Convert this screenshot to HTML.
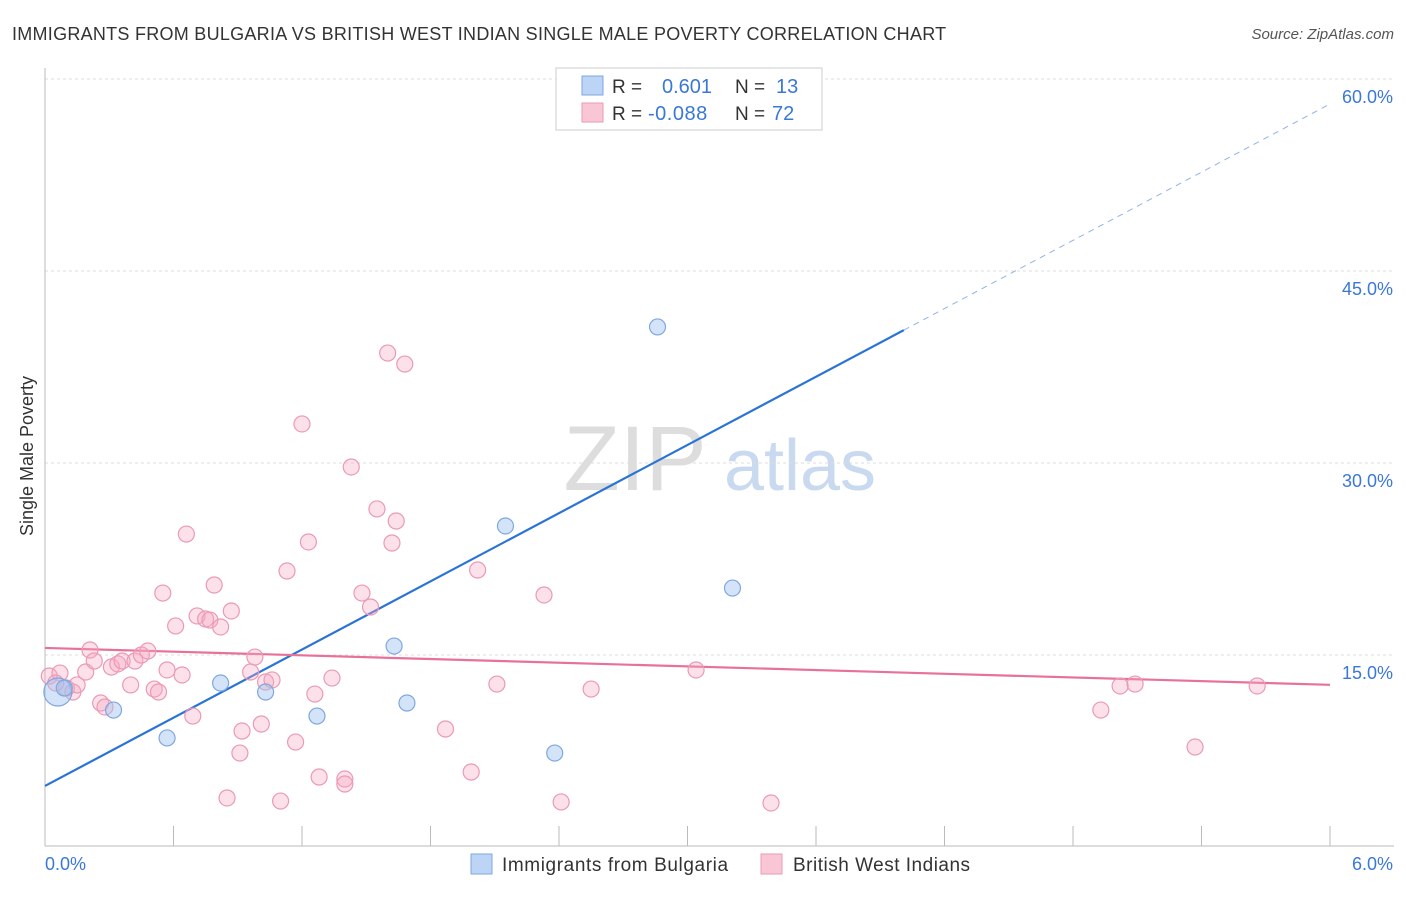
<!DOCTYPE html>
<html><head><meta charset="utf-8">
<style>
body{margin:0;background:#fff;font-family:"Liberation Sans",sans-serif;}
svg text{font-family:"Liberation Sans",sans-serif;}
</style></head>
<body>
<svg id="chart" width="1406" height="892" xmlns="http://www.w3.org/2000/svg">
<text x="12" y="40" font-size="18" fill="#333" letter-spacing="0.27">IMMIGRANTS FROM BULGARIA VS BRITISH WEST INDIAN SINGLE MALE POVERTY CORRELATION CHART</text>
<text x="1394" y="39" font-size="15" fill="#555" font-style="italic" text-anchor="end">Source: ZipAtlas.com</text>
<text x="33" y="456" font-size="18" fill="#333" text-anchor="middle" transform="rotate(-90 33 456)">Single Male Poverty</text>
<g>
<text x="635" y="490" font-size="92" fill="#ddd" font-family="Liberation Serif" text-anchor="middle">ZIP</text>
<text x="800" y="490" font-size="72" fill="#c9d9ef" text-anchor="middle">atlas</text>
</g>
<g id="grid"></g><g id="axes"></g><g id="lines"></g><g id="pts"></g>
<g>
<rect x="556" y="68" width="266" height="62" fill="#fff" stroke="#ccc"/>
<rect x="582" y="76" width="21" height="19" fill="#bcd4f5" stroke="#7fa7e0"/>
<text x="612" y="93" font-size="19" fill="#333">R =</text>
<text x="662" y="93" font-size="20" fill="#3a78d8">0.601</text>
<text x="735" y="93" font-size="19" fill="#333">N =</text>
<text x="776" y="93" font-size="20" fill="#3a78d8">13</text>
<rect x="582" y="103" width="21" height="19" fill="#f9c6d5" stroke="#eb9ab2"/>
<text x="612" y="120" font-size="19" fill="#333">R =</text>
<text x="648" y="120" font-size="20" fill="#3a78d8" letter-spacing="0.5">-0.088</text>
<text x="735" y="120" font-size="19" fill="#333">N =</text>
<text x="772" y="120" font-size="20" fill="#3a78d8">72</text>
</g>
<g>
<rect x="471" y="854" width="21" height="20" fill="#bcd4f5" stroke="#7fa7e0"/>
<text x="502" y="871" font-size="19" fill="#333" letter-spacing="0.6">Immigrants from Bulgaria</text>
<rect x="761" y="854" width="21" height="20" fill="#f9c6d5" stroke="#eb9ab2"/>
<text x="793" y="871" font-size="19" fill="#333" letter-spacing="0.5">British West Indians</text>
</g>
</svg>
<script>
const blueX=[0.06,0.09,0.32,0.57,0.82,1.03,1.27,1.63,1.69,2.15,2.38,2.86,3.21];
const blueY=[12.11,12.42,10.70,8.52,12.81,12.11,10.23,15.70,11.25,25.08,7.34,40.63,20.23];
const pinkX=[.02,.07,.10,.13,.15,.19,.21,.23,.26,.28,.31,.34,.36,.40,.42,.45,.48,.51,.53,.55,.57,.61,.64,.66,.69,.71,.75,.77,.79,.82,.85,.87,.91,.92,.96,.98,1.01,1.03,1.06,1.10,1.13,1.17,1.20,1.23,1.26,1.28,1.34,1.40,1.40,1.43,1.48,1.52,1.55,1.60,1.62,1.64,1.68,1.87,1.99,2.02,2.11,2.33,2.41,2.55,3.04,3.39,4.93,5.02,5.09,5.37,5.66,.05];
const pinkY=[13.36,13.59,12.42,12.11,12.66,13.67,15.39,14.53,11.25,10.94,14.06,14.30,14.53,12.66,14.53,15.00,15.31,12.34,12.11,19.84,13.83,17.27,13.44,24.45,10.23,18.05,17.81,17.73,20.47,17.19,3.83,18.44,7.34,9.06,13.67,14.84,9.61,12.89,13.05,3.59,21.56,8.20,33.05,23.83,11.95,5.47,13.20,5.31,4.92,29.69,19.84,18.75,26.41,38.59,23.75,25.47,37.73,9.22,5.86,21.64,12.73,19.69,3.52,12.34,13.83,3.44,10.70,12.58,12.73,7.81,12.58,12.81];
const blueLine=[4.77,8.88]; // intercept, slope
const pinkLine=[15.55,-0.48];
const yTicks=[15,30,45,60];
const yTickLabels=["15.0%","30.0%","45.0%","60.0%"];
const xTicks=[0,0.6,1.2,1.8,2.4,3.0,3.6,4.2,4.8,5.4,6.0];
const NS="http://www.w3.org/2000/svg";
const X=v=>45+v*1285/6, Y=v=>847-v*12.8;
function mk(par,tag,at){const e=document.createElementNS(NS,tag);for(const k in at)e.setAttribute(k,at[k]);document.getElementById(par).appendChild(e);return e;}
yTicks.forEach((t,i)=>{
 const l=mk('grid','line',{x1:45,x2:1394,y1:Y(t),y2:Y(t),stroke:'#ddd','stroke-dasharray':'3,3'});
 
 
 const tx=mk('axes','text',{x:1393,y:Y(t)+24,'font-size':18,fill:'#3a78d8','text-anchor':'end'});
 tx.textContent=yTickLabels[i];
 
 
});
let ax=mk('axes','line',{x1:45,x2:1394,y1:846,y2:846,stroke:'#bbb'});


let ay=mk('axes','line',{x1:45,x2:45,y1:68,y2:846,stroke:'#bbb'});


xTicks.forEach(t=>{const l=mk('axes','line',{x1:X(t),x2:X(t),y1:826,y2:846,stroke:'#bbb'});
 
 });
let t0=mk('axes','text',{x:45,y:870,'font-size':18,fill:'#3a78d8'});t0.textContent="0.0%";


let t1=mk('axes','text',{x:1393,y:870,'font-size':18,fill:'#3a78d8','text-anchor':'end'});t1.textContent="6.0%";


pinkX.forEach((x,i)=>{const c=mk('pts','circle',{cx:X(x),cy:Y(pinkY[i]),r:8,fill:'rgba(245,170,195,0.35)',stroke:'#eb9ab2','stroke-width':1.2});
 
 });
blueX.forEach((x,i)=>{const c=mk('pts','circle',{cx:X(x),cy:Y(blueY[i]),r:i==0?14:8,fill:'rgba(160,195,240,0.45)',stroke:'#7fa7e0','stroke-width':1.2});
 
 });
const bl=x=>blueLine[0]+blueLine[1]*x, pl=x=>pinkLine[0]+pinkLine[1]*x;
let b1=mk('lines','line',{x1:X(0),y1:Y(bl(0)),x2:X(4.01),y2:Y(bl(4.01)),stroke:'#2a74d6','stroke-width':2.2});


let b2=mk('lines','line',{x1:X(4.01),y1:Y(bl(4.01)),x2:X(6),y2:Y(bl(6)),stroke:'#8fb3e3','stroke-width':1,'stroke-dasharray':'6,5'});


let p1=mk('lines','line',{x1:X(0),y1:Y(pl(0)),x2:X(6),y2:Y(pl(6)),stroke:'#e8719a','stroke-width':2.2});


</script>
</body></html>
